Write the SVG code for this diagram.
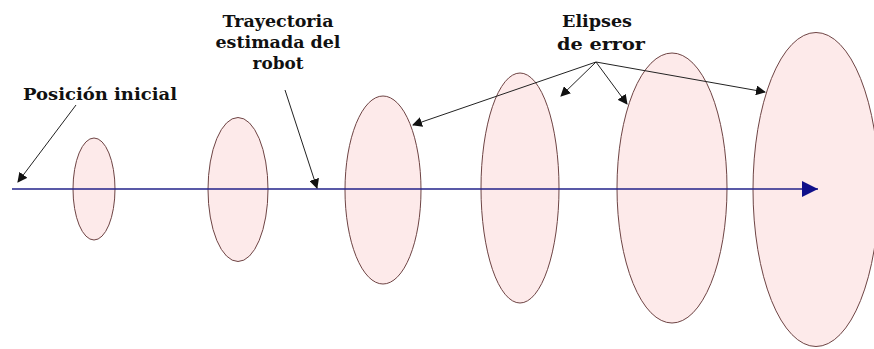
<svg xmlns="http://www.w3.org/2000/svg" width="874" height="349" viewBox="0 0 874 349">
<style>
.el{fill:#fdeaea;stroke:#6e4444;stroke-width:1}
.lbl{font-family:"DejaVu Serif","Liberation Serif",serif;font-weight:bold;font-size:16px;fill:#111;text-anchor:middle}
.ann{stroke:#222;stroke-width:1;fill:none;marker-end:url(#ah)}
</style>
<defs>
<marker id="ah" viewBox="0 0 10 10" refX="9" refY="5" markerWidth="10" markerHeight="10" markerUnits="userSpaceOnUse" orient="auto">
<path d="M0,0 L10,5 L0,10 z" fill="#111"/>
</marker>
<marker id="bh" viewBox="0 0 10 10" refX="10" refY="5" markerWidth="19" markerHeight="16" markerUnits="userSpaceOnUse" orient="auto">
<path d="M0,0 L10,5 L0,10 z" fill="#10108a"/>
</marker>
</defs>
<rect width="874" height="349" fill="#fff"/>
<g id="ellipse1"><ellipse class="el" cx="94" cy="189" rx="21" ry="51"/></g>
<g id="ellipse2"><ellipse class="el" cx="238" cy="189.5" rx="30" ry="72"/></g>
<g id="ellipse3"><ellipse class="el" cx="383" cy="190" rx="38" ry="94"/></g>
<g id="ellipse4"><ellipse class="el" cx="520" cy="188" rx="39" ry="115"/></g>
<g id="ellipse5"><ellipse class="el" cx="672" cy="188" rx="55" ry="135"/></g>
<g id="ellipse6"><ellipse class="el" cx="816" cy="189.5" rx="63" ry="157"/></g>
<g id="label-posicion"><text class="lbl" x="100" y="100" textLength="154" lengthAdjust="spacingAndGlyphs">Posición inicial</text></g>
<g id="label-trayectoria"><text class="lbl" x="278" y="27" textLength="111" lengthAdjust="spacingAndGlyphs">Trayectoria</text><text class="lbl" x="278" y="48" textLength="125" lengthAdjust="spacingAndGlyphs">estimada del</text><text class="lbl" x="278" y="69" textLength="51" lengthAdjust="spacingAndGlyphs">robot</text></g>
<g id="label-elipses"><text class="lbl" x="597" y="27" textLength="70" lengthAdjust="spacingAndGlyphs">Elipses</text><text class="lbl" x="601" y="50" textLength="88" lengthAdjust="spacingAndGlyphs">de error</text></g>
<g id="connectors">
<line x1="12" y1="189" x2="818" y2="189" stroke="#22228a" stroke-width="1.3" marker-end="url(#bh)"/>
<line class="ann" x1="76" y1="105" x2="18" y2="182"/>
<line class="ann" x1="285" y1="90" x2="317" y2="188"/>
<line class="ann" x1="596" y1="62" x2="413" y2="125"/>
<line class="ann" x1="596" y1="62" x2="561" y2="96"/>
<line class="ann" x1="596" y1="62" x2="627" y2="104"/>
<line class="ann" x1="596" y1="62" x2="765" y2="92"/>
</g>
</svg>
